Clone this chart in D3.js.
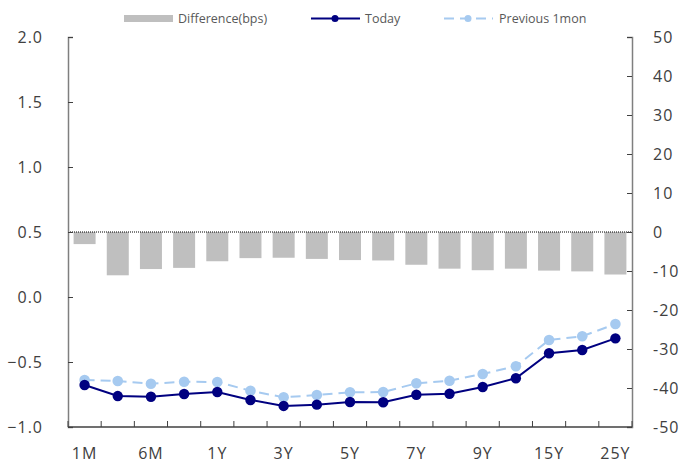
<!DOCTYPE html>
<html>
<head>
<meta charset="utf-8">
<script src="https://cdn.jsdelivr.net/npm/d3@7/dist/d3.min.js"></script>
<style>
  html, body { margin: 0; padding: 0; background: #fff; }
  svg { display: block; font-family: "Open Sans", "Noto Sans", sans-serif; }
</style>
</head>
<body>
<svg id="chart" width="695" height="463"></svg>
<script>
// Tenors along the curve (only every other one is labelled)
const tenors = ["1M","3M","6M","9M","1Y","2Y","3Y","4Y","5Y","6Y","7Y","8Y","9Y","10Y","15Y","20Y","25Y"];
const shownTenors = ["1M","6M","1Y","3Y","5Y","7Y","9Y","15Y","25Y"];

// Yields, %
const today =    [-0.677,-0.762,-0.767,-0.746,-0.731,-0.792,-0.838,-0.828,-0.808,-0.810,-0.752,-0.744,-0.692,-0.625,-0.433,-0.408,-0.318];
const previous = [-0.638,-0.646,-0.667,-0.652,-0.654,-0.721,-0.772,-0.754,-0.733,-0.731,-0.664,-0.644,-0.592,-0.533,-0.331,-0.302,-0.208];
// Change over the month, bps
const difference = [-3.1,-11.1,-9.5,-9.2,-7.5,-6.7,-6.6,-6.9,-7.2,-7.3,-8.4,-9.4,-9.8,-9.4,-9.9,-10.1,-10.9];

const leftTicks = [2.0,1.5,1.0,0.5,0.0,-0.5,-1.0];
const rightTicks = [50,40,30,20,10,0,-10,-20,-30,-40,-50];

const svg = d3.select("#chart");
const m = { left: 68, right: 632, top: 37, bottom: 427 };

const x = d3.scaleBand().domain(tenors).range([m.left, m.right]).paddingInner(0).paddingOuter(0);
const yL = d3.scaleLinear().domain([-1, 2]).range([m.bottom, m.top]);
const yR = d3.scaleLinear().domain([-50, 50]).range([m.bottom, m.top]);
const cx = d => x(d) + x.bandwidth() / 2;

const axisColor = "#7f7f7f";
const textColor = "#404040";

// Difference bars on the right-hand scale
svg.append("g").selectAll("rect").data(difference).join("rect")
  .attr("x", (d, i) => cx(tenors[i]) - 11)
  .attr("width", 22)
  .attr("y", d => yR(Math.max(0, d)))
  .attr("height", d => Math.abs(yR(d) - yR(0)))
  .attr("fill", "#bfbfbf");

// Dotted zero line for the bars
svg.append("line")
  .attr("x1", m.left).attr("x2", m.right)
  .attr("y1", yR(0)).attr("y2", yR(0))
  .attr("stroke", "#000").attr("stroke-width", 1).attr("stroke-dasharray", "1,1");

// Left axis
const gL = svg.append("g").attr("transform", `translate(${m.left},0)`)
  .call(d3.axisRight(yL).tickValues(leftTicks).tickSize(5).tickFormat(""));
gL.select(".domain").attr("stroke", axisColor).attr("stroke-width", 1.5);
gL.selectAll(".tick line").attr("stroke", "#404040");
svg.append("g").selectAll("text").data(leftTicks).join("text")
  .attr("x", 43).attr("y", d => yL(d)).attr("dy", "0.35em")
  .attr("text-anchor", "end")
  .attr("font-size", 16).attr("letter-spacing", "1px").attr("fill", textColor)
  .text(d => d3.format(".1f")(d));

// Right axis
const gR = svg.append("g").attr("transform", `translate(${m.right},0)`)
  .call(d3.axisLeft(yR).tickValues(rightTicks).tickSize(5).tickFormat(""));
gR.select(".domain").attr("stroke", axisColor).attr("stroke-width", 1.5);
gR.selectAll(".tick line").attr("stroke", "#404040");
svg.append("g").selectAll("text").data(rightTicks).join("text")
  .attr("x", 653).attr("y", d => yR(d)).attr("dy", "0.35em")
  .attr("text-anchor", "start")
  .attr("font-size", 16).attr("letter-spacing", "1px").attr("fill", textColor)
  .text(d => d);

// Bottom axis with tick marks between tenors
const boundaries = tenors.map(t => x(t)).concat([m.right]);
svg.append("line")
  .attr("x1", m.left).attr("x2", m.right).attr("y1", m.bottom).attr("y2", m.bottom)
  .attr("stroke", "#404040").attr("stroke-width", 1.5);
svg.append("g").selectAll("line").data(boundaries).join("line")
  .attr("x1", d => d).attr("x2", d => d)
  .attr("y1", m.bottom).attr("y2", m.bottom - 6)
  .attr("stroke", "#404040");
svg.append("g").selectAll("text").data(shownTenors).join("text")
  .attr("x", d => cx(d)).attr("y", 453).attr("dy", "0.35em")
  .attr("text-anchor", "middle")
  .attr("font-size", 16).attr("letter-spacing", "1px").attr("fill", textColor)
  .text(d => d);

// Yield curves
const line = d3.line().x((d, i) => cx(tenors[i])).y(d => yL(d));

svg.append("path").datum(previous)
  .attr("d", line).attr("fill", "none")
  .attr("stroke", "#a6caf0").attr("stroke-width", 2).attr("stroke-dasharray", "10,6");
svg.append("g").selectAll("circle").data(previous).join("circle")
  .attr("cx", (d, i) => cx(tenors[i])).attr("cy", d => yL(d)).attr("r", 5.3)
  .attr("fill", "#a6caf0");

svg.append("path").datum(today)
  .attr("d", line).attr("fill", "none")
  .attr("stroke", "#000080").attr("stroke-width", 2);
svg.append("g").selectAll("circle").data(today).join("circle")
  .attr("cx", (d, i) => cx(tenors[i])).attr("cy", d => yL(d)).attr("r", 5.2)
  .attr("fill", "#000080");

// Legend
const lg = svg.append("g").attr("font-size", 12.5).attr("fill", "#595959");
lg.append("rect").attr("x", 124).attr("y", 15).attr("width", 49).attr("height", 7).attr("fill", "#bfbfbf");
lg.append("text").attr("x", 178).attr("y", 18.5).attr("dy", "0.35em").text("Difference(bps)");

lg.append("line").attr("x1", 311).attr("x2", 360).attr("y1", 18.5).attr("y2", 18.5)
  .attr("stroke", "#000080").attr("stroke-width", 2);
lg.append("circle").attr("cx", 335).attr("cy", 18.5).attr("r", 3.5).attr("fill", "#000080");
lg.append("text").attr("x", 365).attr("y", 18.5).attr("dy", "0.35em").text("Today");

lg.append("line").attr("x1", 444).attr("x2", 493).attr("y1", 18.5).attr("y2", 18.5)
  .attr("stroke", "#a6caf0").attr("stroke-width", 2).attr("stroke-dasharray", "10,6");
lg.append("circle").attr("cx", 468).attr("cy", 18.5).attr("r", 3.5).attr("fill", "#a6caf0");
lg.append("text").attr("x", 499).attr("y", 18.5).attr("dy", "0.35em").text("Previous 1mon");
</script>
</body>
</html>
